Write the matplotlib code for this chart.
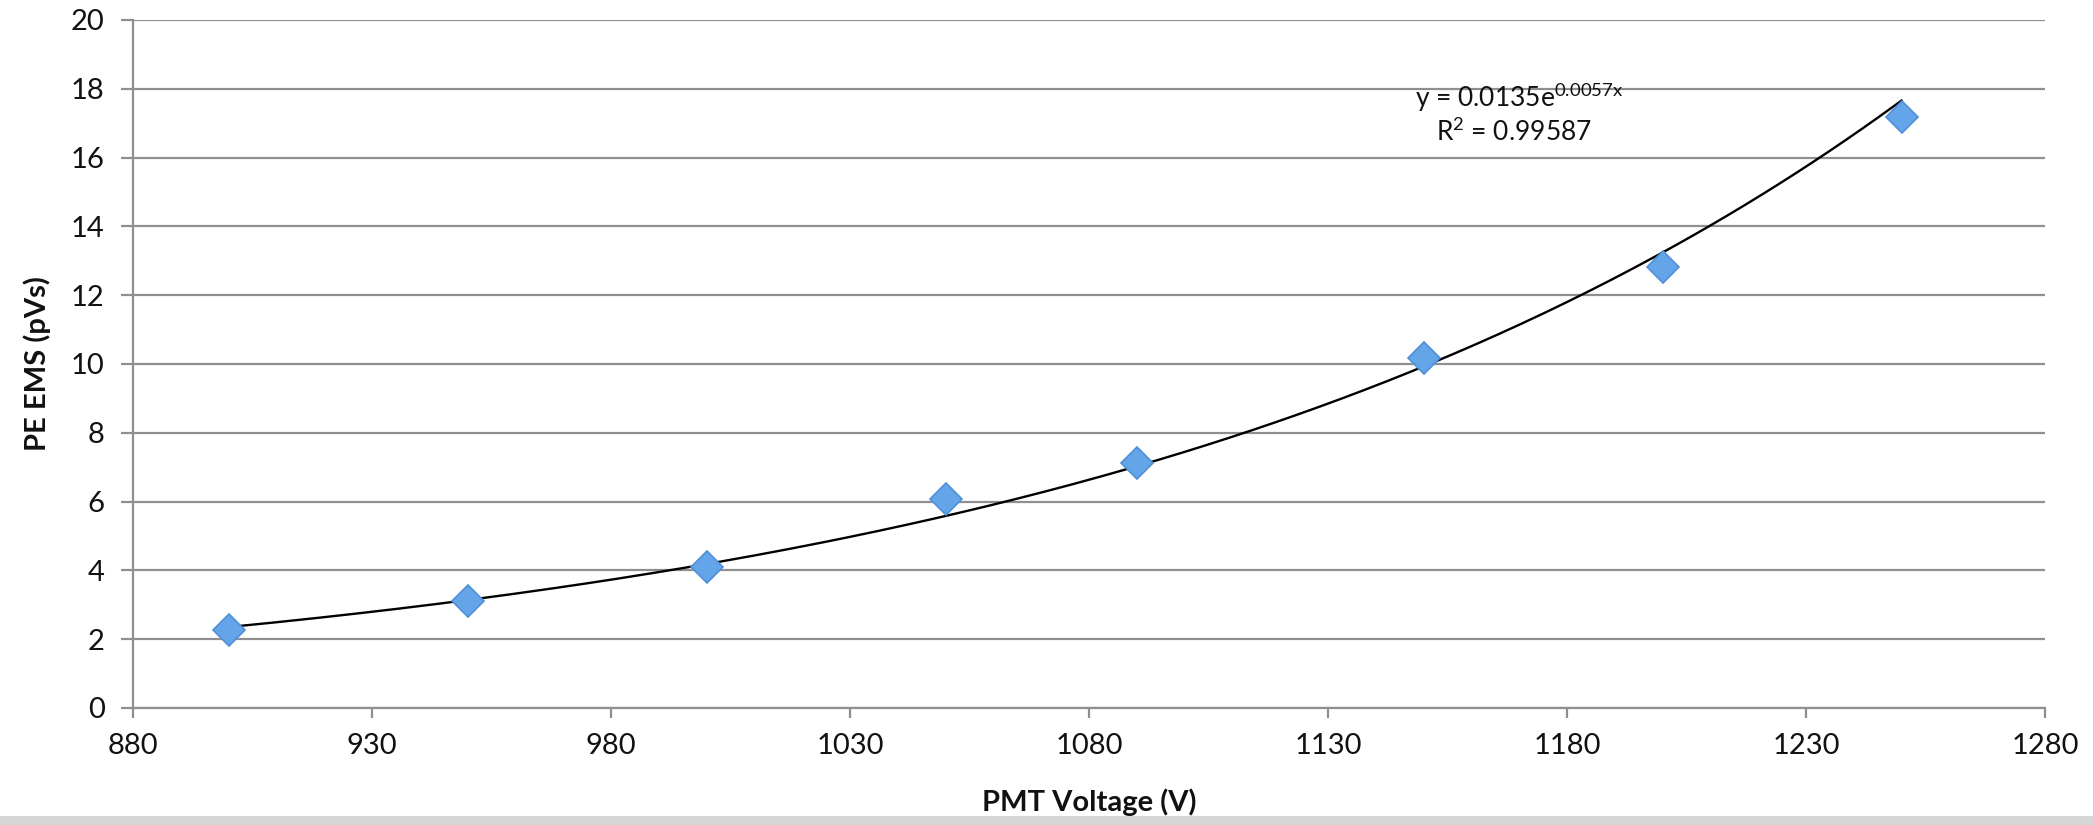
import numpy as np
import matplotlib
matplotlib.use("Agg")
import matplotlib.pyplot as plt
from matplotlib.patches import Rectangle

# measured points
voltage = [900, 950, 1000, 1050, 1090, 1150, 1200, 1250]
pe_ems = [2.27, 3.12, 4.09, 6.08, 7.13, 10.17, 12.83, 17.19]

eq_text = r"y = 0.0135e$^{0.0057x}$"
r2_text = r"R$^{2}$ = 0.99587"
x_ticks = list(range(880, 1281, 50))
y_ticks = list(range(0, 21, 2))

plt.rcParams['font.family'] = ['Lato', 'DejaVu Sans']
plt.rcParams['mathtext.fontset'] = 'custom'
plt.rcParams['mathtext.rm'] = 'Lato'
plt.rcParams['mathtext.default'] = 'regular'

grid_col = '#8f8f8f'
text_col = '#111111'

fig = plt.figure(figsize=(20.93, 8.25), dpi=100)
ax = fig.add_axes([133/2093, 1 - 708/825, (2045-133)/2093, (708-20)/825])

# exponential trendline fitted to the points (Excel style)
b, lna = np.polyfit(voltage, np.log(pe_ems), 1)
xs = np.linspace(voltage[0], voltage[-1], 300)
ax.plot(xs, np.exp(lna) * np.exp(b * xs), color='black', lw=1.7, zorder=3)

ax.plot(voltage, pe_ems, linestyle='none', marker='D', markersize=16,
        markerfacecolor='#64a5ea', markeredgecolor='#4f8fd6', markeredgewidth=1.2,
        zorder=4)

ax.set_xlim(880, 1280)
ax.set_ylim(0, 20)
ax.set_xticks(x_ticks)
ax.set_yticks(y_ticks)
ax.yaxis.grid(True, color=grid_col, lw=1.6)
ax.set_axisbelow(True)

for s in ['top', 'right']:
    ax.spines[s].set_visible(False)
for s in ['left', 'bottom']:
    ax.spines[s].set_color(grid_col)
    ax.spines[s].set_linewidth(1.6)

ax.tick_params(axis='x', length=7, width=1.6, color=grid_col, pad=11,
               labelsize=21, labelcolor=text_col)
ax.tick_params(axis='y', length=8.5, width=1.6, color=grid_col, pad=12,
               labelsize=21, labelcolor=text_col)

ax.set_xlabel("PMT Voltage (V)", fontsize=21, fontweight='bold', color=text_col, labelpad=21)
ax.set_ylabel("PE EMS (pVs)", fontsize=21, fontweight='bold', color=text_col, labelpad=14)

ax.text(1170, 17.73, eq_text, ha='center', va='center', fontsize=19, color=text_col)
ax.text(1169, 16.74, r2_text, ha='center', va='center', fontsize=19, color=text_col)

fig.patches.append(Rectangle((0, 0), 1, 9/825, transform=fig.transFigure,
                             facecolor='#d6d6d6', edgecolor='none'))

fig.savefig("out.png", dpi=100)
